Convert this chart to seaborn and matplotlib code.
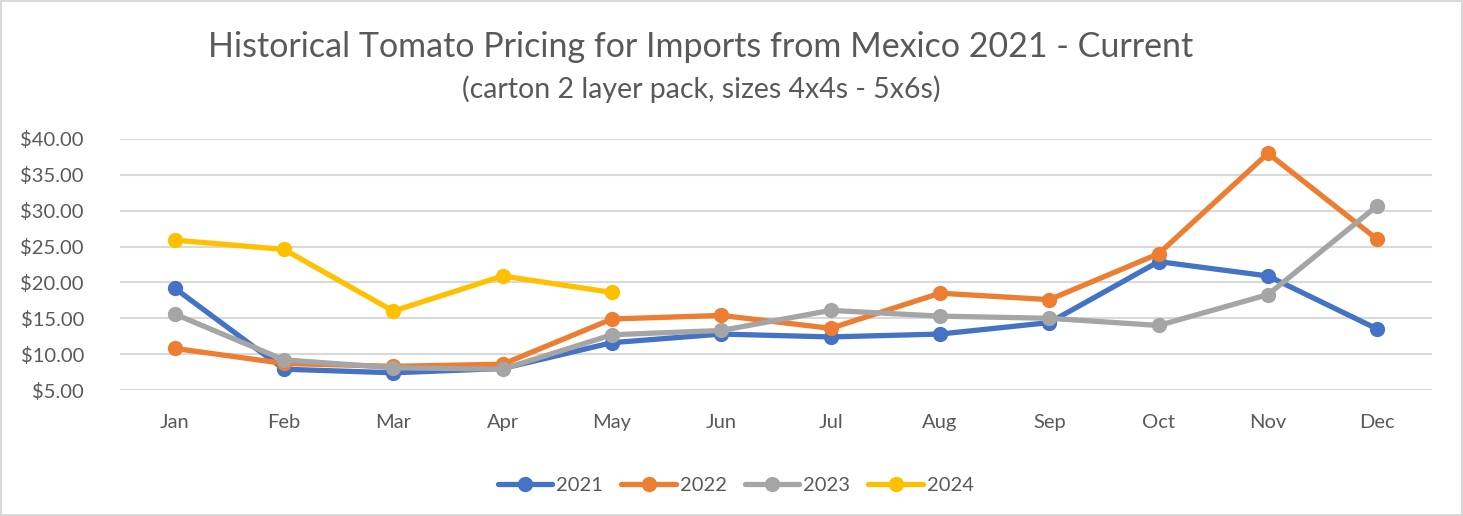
import pandas as pd
import numpy as np
import seaborn as sns
import matplotlib.pyplot as plt
from matplotlib.lines import Line2D

# ===== dados =====
months = ["Jan", "Feb", "Mar", "Apr", "May", "Jun", "Jul", "Aug", "Sep", "Oct", "Nov", "Dec"]
years = ["2021", "2022", "2023", "2024"]
price_2021 = [19.2, 7.9, 7.4, 8.0, 11.6, 12.8, 12.4, 12.8, 14.4, 22.9, 20.9, 13.5]
price_2022 = [10.8, 8.7, 8.3, 8.6, 14.9, 15.4, 13.6, 18.5, 17.6, 24.0, 38.0, 26.0]
price_2023 = [15.6, 9.2, 8.1, 7.9, 12.7, 13.3, 16.1, 15.3, 15.0, 14.0, 18.3, 30.7]
price_2024 = [25.9, 24.6, 16.0, 20.9, 18.6]
yticks = [5, 10, 15, 20, 25, 30, 35, 40]

colors = {"2021": "#4472C4", "2022": "#ED7D31", "2023": "#A5A5A5", "2024": "#FFC000"}

# monta tabela longa
series = {"2021": price_2021, "2022": price_2022, "2023": price_2023, "2024": price_2024}
rows = []
for yr in years:
    for i, v in enumerate(series[yr]):
        rows.append({"month": i, "year": yr, "price": v})
df = pd.DataFrame(rows)

sns.set_style("white")
plt.rcParams["font.family"] = ["Lato", "DejaVu Sans"]

fig = plt.figure(figsize=(14.63, 5.16), dpi=100)
fig.patch.set_edgecolor("#d9d9d9")
fig.patch.set_linewidth(1.5)
ax = fig.add_axes([120 / 1463, 1 - 390 / 516, 1312 / 1463, 251 / 516])

for yv in yticks:
    ax.axhline(yv, color="#d9d9d9", lw=1.5, zorder=0)

for k, yr in enumerate(years):
    sns.lineplot(data=df[df["year"] == yr], x="month", y="price", ax=ax,
                 color=colors[yr], lw=3.8, marker="o", markersize=11,
                 markeredgewidth=0, zorder=2 + k, clip_on=False, legend=False)

ax.set_xlim(-0.5, 11.5)
ax.set_ylim(5, 40)
ax.set_xticks(range(12))
ax.set_xticklabels(months)
ax.set_yticks(yticks)
ax.set_yticklabels([f"${v:.2f}" for v in yticks])
ax.tick_params(axis="both", labelsize=14.5, colors="#595959", length=0)
ax.tick_params(axis="x", pad=17)
ax.tick_params(axis="y", pad=26)
ax.set_xlabel("")
ax.set_ylabel("")
for s in ax.spines.values():
    s.set_visible(False)

fig.text(0.479, 1 - 47 / 516, "Historical Tomato Pricing for Imports from Mexico 2021 - Current",
         ha="center", va="center", fontsize=24.5, color="#595959")
fig.text(0.479, 1 - 89 / 516, "(carton 2 layer pack, sizes 4x4s - 5x6s)",
         ha="center", va="center", fontsize=20.5, color="#595959")

handles = [Line2D([0], [0], color=colors[yr], lw=3.8, marker="o", markersize=11,
                  markeredgewidth=0) for yr in years]
fig.legend(handles, years, loc="center", bbox_to_anchor=(0.503, 1 - 485 / 516), ncol=4,
           frameon=False, fontsize=14.5, labelcolor="#595959", handlelength=2.7,
           handletextpad=0.2, columnspacing=0.9)

fig.savefig("out.png", dpi=100)
